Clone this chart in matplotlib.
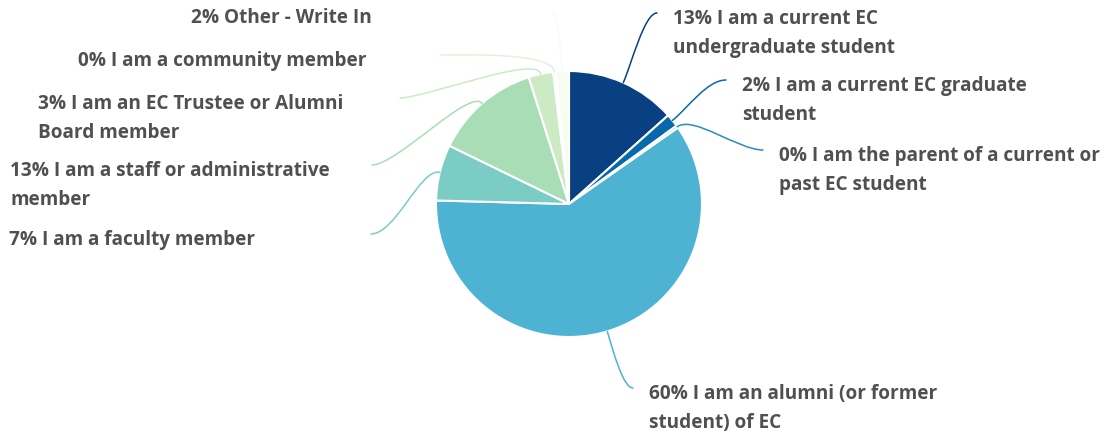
import matplotlib
matplotlib.use('Agg')
import numpy as np
import matplotlib.pyplot as plt
from matplotlib.path import Path
from matplotlib.patches import PathPatch

# survey answers, clockwise from 12 o'clock
categories = [
    "I am a current EC\nundergraduate student",
    "I am a current EC graduate\nstudent",
    "I am the parent of a current or\npast EC student",
    "I am an alumni (or former\nstudent) of EC",
    "I am a faculty member",
    "I am a staff or administrative\nmember",
    "I am an EC Trustee or Alumni\nBoard member",
    "I am a community member",
    "Other - Write In",
]
shares = [13.4, 1.6, 0.3, 60.2, 6.8, 12.9, 3.0, 0.3, 1.6]
colors = ['#084081', '#0868ac', '#2b8cbe', '#4eb3d3', '#7bccc4',
          '#a8ddb5', '#ccebc5', '#e0f3db', '#f7fcf0']

# layout, in pixels from top-left of the image
W, H = 1108, 438
CENTER = (569, 204)
RADIUS = 133
# where each leader line ends
ANCHORS = [(657, 13), (726, 80), (763, 150), (633, 388), (371, 234),
           (372, 165), (400, 98), (440, 55), (553, 12)]
TEXT_COLOR = '#505050'

plt.rcParams['font.family'] = ['Open Sans', 'DejaVu Sans']

fig = plt.figure(figsize=(W / 100, H / 100), dpi=100)
ax = fig.add_axes([0, 0, 1, 1])

cx, cy = CENTER[0], H - CENTER[1]
wedges, _ = ax.pie(shares, colors=colors, startangle=90, counterclock=False,
                   center=(cx, cy), radius=RADIUS,
                   wedgeprops=dict(edgecolor='white', linewidth=1.5))

total = float(sum(shares))
for w, name, share, col, (axp, ayp) in zip(wedges, categories, shares,
                                            colors, ANCHORS):
    # leader: out from the slice middle, then bend into the label
    mid = np.deg2rad((w.theta1 + w.theta2) / 2.0)
    d = np.array([np.cos(mid), np.sin(mid)])
    p0 = np.array([cx, cy]) + RADIUS * d
    p1 = np.array([cx, cy]) + (RADIUS + 20) * d
    end = np.array([axp, H - ayp])
    right = end[0] > cx
    h = min(25, abs(end[0] - p1[0]) * 0.5)
    p2 = end + np.array([-h if right else h, 0])
    path = Path([p0, p1, p2, end],
                [Path.MOVETO, Path.CURVE4, Path.CURVE4, Path.CURVE4])
    ax.add_patch(PathPatch(path, facecolor='none', edgecolor=col,
                           linewidth=1.1, capstyle='round'))

    label = "%d%% %s" % (round(share / total * 100), name)
    tx = end[0] + 16 if right else end[0] - 362
    ax.text(tx, end[1] + 4, label, ha='left', va='top',
            fontsize=13.7, fontweight='bold', color=TEXT_COLOR,
            linespacing=1.63)

ax.set_xlim(0, W)
ax.set_ylim(0, H)
ax.set_aspect('equal')
ax.axis('off')

fig.savefig('out.png', dpi=100, facecolor='white')
